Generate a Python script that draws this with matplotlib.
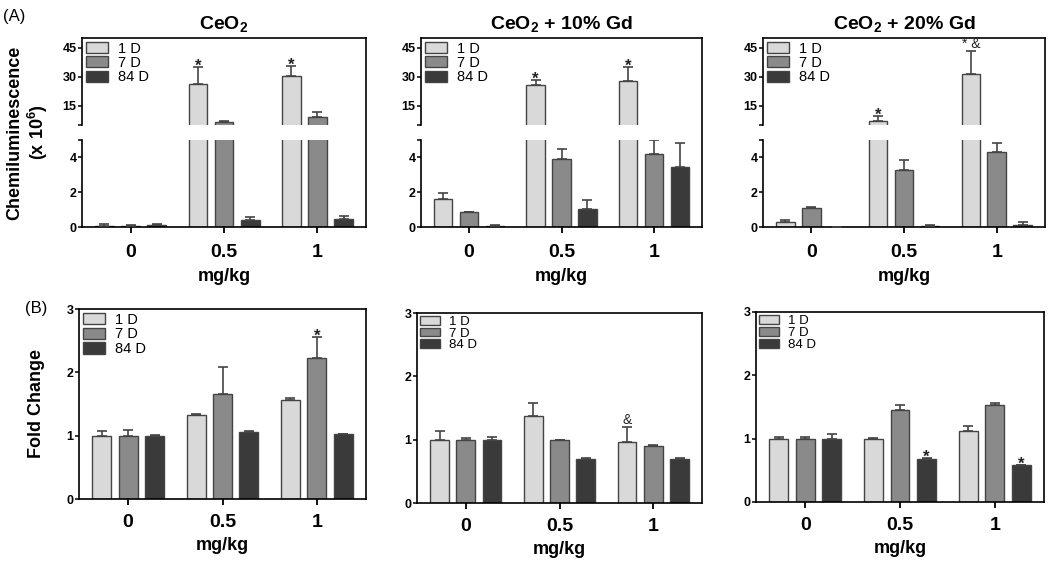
import matplotlib
matplotlib.use("Agg")
import matplotlib.pyplot as plt
import numpy as np

plt.rcParams['font.family'] = ['Liberation Sans', 'DejaVu Sans']
plt.rcParams['mathtext.fontset'] = 'custom'
plt.rcParams['mathtext.rm'] = 'Liberation Sans'
plt.rcParams['mathtext.bf'] = 'Liberation Sans:bold'

doses = ['0', '0.5', '1']
series = ['1 D', '7 D', '84 D']
colors = ['#d9d9d9', '#8a8a8a', '#3a3a3a']
titles = ['CeO$_\\mathbf{2}$', 'CeO$_\\mathbf{2}$ + 10% Gd', 'CeO$_\\mathbf{2}$ + 20% Gd']

# (A) chemiluminescence (x 10^6), rows = 1 D, 7 D, 84 D ; cols = doses
chem_ceo2 = [[0.03, 26.2, 30.2], [0.05, 6.5, 9.1], [0.10, 0.42, 0.45]]
chem_ceo2_err = [[0.13, 9.0, 5.5], [0.04, 0.7, 2.8], [0.06, 0.18, 0.17]]
chem_gd10 = [[1.63, 25.5, 27.9], [0.84, 3.9, 4.2], [0.08, 1.05, 3.47]]
chem_gd10_err = [[0.35, 2.9, 7.3], [0.03, 0.6, 0.8], [0.03, 0.5, 1.38]]
chem_gd20 = [[0.30, 7.0, 31.6], [1.11, 3.27, 4.3], [0.0, 0.08, 0.12]]
chem_gd20_err = [[0.12, 2.8, 11.5], [0.04, 0.58, 0.5], [0.0, 0.03, 0.18]]

# (B) fold change
fold_ceo2 = [[1.0, 1.32, 1.57], [1.0, 1.66, 2.22], [1.0, 1.06, 1.02]]
fold_ceo2_err = [[0.08, 0.03, 0.03], [0.09, 0.43, 0.34], [0.01, 0.01, 0.01]]
fold_gd10 = [[1.0, 1.38, 0.97], [1.0, 1.0, 0.9], [1.0, 0.7, 0.7]]
fold_gd10_err = [[0.13, 0.2, 0.23], [0.03, 0.0, 0.01], [0.05, 0.01, 0.01]]
fold_gd20 = [[1.0, 1.0, 1.12], [1.0, 1.46, 1.53], [1.0, 0.68, 0.58]]
fold_gd20_err = [[0.03, 0.01, 0.08], [0.02, 0.07, 0.03], [0.07, 0.02, 0.01]]

# significance marks: (series index, dose index, text)
chem_marks = [[(0, 1, '*'), (0, 2, '*')],
              [(0, 1, '*'), (0, 2, '*')],
              [(0, 1, '*'), (0, 2, '* &')]]
fold_marks = [[(1, 2, '*')],
              [(0, 2, '&')],
              [(2, 1, '*'), (2, 2, '*')]]

chem = [(chem_ceo2, chem_ceo2_err), (chem_gd10, chem_gd10_err), (chem_gd20, chem_gd20_err)]
fold = [(fold_ceo2, fold_ceo2_err), (fold_gd10, fold_gd10_err), (fold_gd20, fold_gd20_err)]

W, H = 1050, 566
fig = plt.figure(figsize=(W / 100, H / 100), dpi=100)


def px_axes(l, t, r, b, **kw):
    return fig.add_axes([l / W, 1 - b / H, (r - l) / W, (b - t) / H], **kw)


x = np.arange(len(doses))
offsets = [-0.28, 0.0, 0.28]
bw = 0.2
edge = '#444444'
spine_w = 1.2


def draw_bars(ax, vals, errs, floor=None):
    handles = []
    for i in range(len(series)):
        v = np.array(vals[i], dtype=float)
        e = np.array(errs[i], dtype=float)
        h = ax.bar(x + offsets[i], v, bw, color=colors[i], edgecolor=edge,
                   linewidth=1.0, label=series[i], zorder=2)
        if floor is not None:
            # skip error bars that end below the broken part of the axis
            v = np.where(v + e > floor + 1, v, np.nan)
        ax.errorbar(x + offsets[i], v, yerr=[np.zeros(len(doses)), e],
                    fmt='none', ecolor='#444444', elinewidth=1.2, capsize=3.3,
                    capthick=1.2, zorder=3)
        handles.append(h)
    return handles


def add_marks(ax, vals, errs, marks, lim):
    for s, d, t in marks:
        top = vals[s][d] + errs[s][d]
        if lim[0] <= top <= lim[1]:
            if t == '*':
                ax.annotate(t, (x[d] + offsets[s], top), xytext=(0, -5),
                            textcoords='offset points', ha='center', va='bottom',
                            fontsize=12, fontweight='bold', color='#222222')
            else:
                ax.annotate(t, (x[d] + offsets[s], top), xytext=(0, 0),
                            textcoords='offset points', ha='center', va='bottom',
                            fontsize=10, color='#222222')


def style_legend(ax, handles, spacing=0.02, hh=0.8, fs=10.5):
    ax.legend(handles=handles, loc='upper left', frameon=False, fontsize=fs,
              handlelength=1.5, handleheight=hh, labelspacing=spacing,
              handletextpad=0.7, borderaxespad=0.1, borderpad=0.15)


top_cols = [(82, 366), (421, 702), (763, 1045)]
for k, (l, r) in enumerate(top_cols):
    vals, errs = chem[k]
    frame = px_axes(l, 38, r, 227)
    frame.set_facecolor('none')
    frame.set_xticks([])
    frame.set_yticks([])
    frame.spines['left'].set_visible(False)
    frame.spines['bottom'].set_visible(False)
    for sp in ['top', 'right']:
        frame.spines[sp].set_linewidth(spine_w)
    frame.set_title(titles[k], fontsize=14, fontweight='bold', pad=6)
    if k == 0:
        frame.set_ylabel('Chemiluminescence\n(x 10$^\\mathbf{6}$)', fontsize=13,
                         fontweight='bold', linespacing=1.15)
        frame.yaxis.set_label_coords(-0.113, 0.5)

    up = px_axes(l, 38, r, 125)
    lo = px_axes(l, 140, r, 227)
    for ax in (up, lo):
        ax.set_facecolor('none')
        ax.spines['top'].set_visible(False)
        ax.spines['right'].set_visible(False)
        ax.spines['left'].set_linewidth(spine_w)
        ax.spines['bottom'].set_linewidth(spine_w)
        ax.set_xlim(-0.52, 2.52)
        ax.tick_params(axis='y', length=3, width=1.1, pad=1, labelsize=9)
    up.spines['bottom'].set_visible(False)
    up.set_ylim(5, 50)
    lo.set_ylim(0, 5)
    handles = draw_bars(up, vals, errs, floor=5)
    draw_bars(lo, vals, errs)
    up.set_yticks([5, 15, 30, 45], ['', '15', '30', '45'], fontweight='bold')
    lo.set_yticks([0, 2, 4, 5], ['0', '2', '4', ''], fontweight='bold')
    up.set_xticks([])
    lo.set_xticks(x, doses, fontweight='bold')
    lo.tick_params(axis='x', length=4, width=1.3, labelsize=14, pad=8)
    lo.set_xlabel('mg/kg', fontsize=13, fontweight='bold', labelpad=5)
    style_legend(up, handles)
    add_marks(up, vals, errs, chem_marks[k], (5, 50))
    add_marks(lo, vals, errs, chem_marks[k], (0, 5))

bottom_pos = [(79, 309, 366, 499), (417, 313, 702, 503), (756, 312, 1044, 502)]
bottom_legend = [(0.05, 0.8, 10.5), (-0.05, 0.65, 9.5), (-0.02, 0.65, 9.5)]
for k, (l, t, r, b) in enumerate(bottom_pos):
    vals, errs = fold[k]
    ax = px_axes(l, t, r, b)
    for sp in ax.spines.values():
        sp.set_linewidth(spine_w)
    handles = draw_bars(ax, vals, errs)
    ax.set_xlim(-0.52, 2.52)
    ax.set_ylim(0, 3)
    ax.set_yticks([0, 1, 2, 3], ['0', '1', '2', '3'], fontweight='bold')
    ax.tick_params(axis='y', length=3, width=1.1, pad=1, labelsize=9)
    ax.set_xticks(x, doses, fontweight='bold')
    ax.tick_params(axis='x', length=4, width=1.3, labelsize=14, pad=7)
    ax.set_xlabel('mg/kg', fontsize=13, fontweight='bold', labelpad=4)
    style_legend(ax, handles, *bottom_legend[k])
    add_marks(ax, vals, errs, fold_marks[k], (0, 3))
    if k == 0:
        ax.set_ylabel('Fold Change', fontsize=13, fontweight='bold')
        ax.yaxis.set_label_coords(-0.118, 0.5)

fig.text(3 / W, 1 - 16 / H, '(A)', fontsize=12, va='center', ha='left')
fig.text(25 / W, 1 - 309 / H, '(B)', fontsize=12, va='center', ha='left')

fig.savefig('out.png', dpi=100)
